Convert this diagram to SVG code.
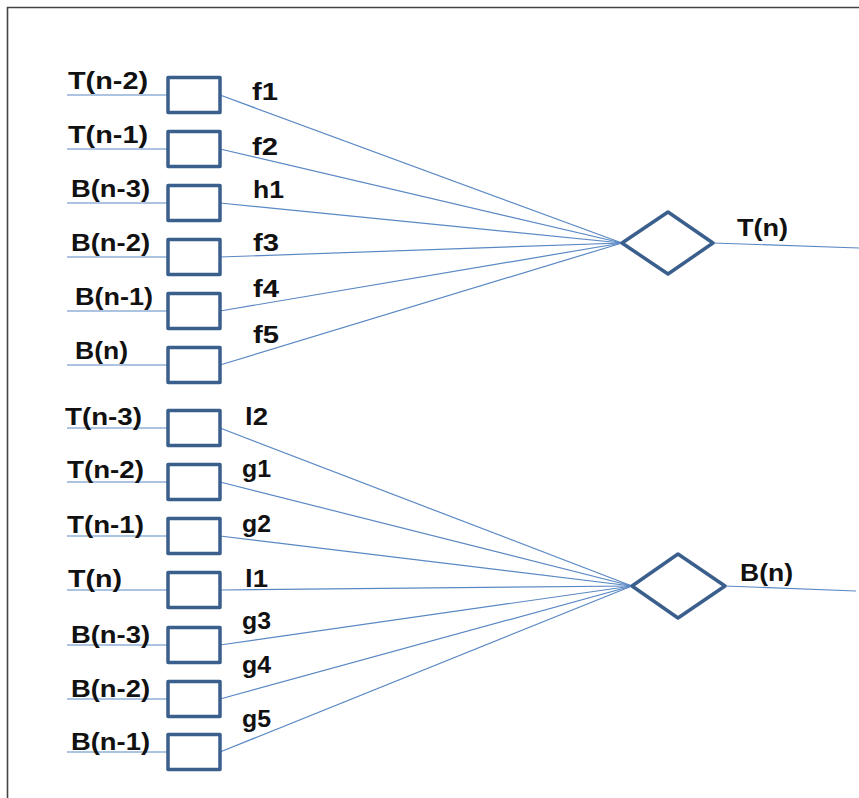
<svg xmlns="http://www.w3.org/2000/svg" width="859" height="798" viewBox="0 0 859 798">
  <style>
    .frame { fill: none; stroke: #444; stroke-width: 1.6; }
    .box { fill: #fff; stroke: #3b5f8c; stroke-width: 3.5; stroke-linejoin: round; }
    .gate { fill: #fff; stroke: #3b5f8c; stroke-width: 3.5; stroke-linejoin: round; }
    .wire { stroke: #5a88c4; stroke-width: 1.2; fill: none; }
    .lbl { font-family: "Liberation Sans", Arial, sans-serif; font-weight: bold; font-size: 23px; fill: #111; }
  </style>

  <rect x="0" y="0" width="859" height="798" fill="#fff"/>
  <path class="frame" d="M7.5,798 V7.5 H859"/>

  <!-- connectors -->
  <g id="connectors">
    <!-- inputs, upper block -->
    <line class="wire" x1="67" y1="95" x2="168" y2="95"/>
    <line class="wire" x1="67" y1="149" x2="168" y2="149"/>
    <line class="wire" x1="67" y1="203" x2="168" y2="203"/>
    <line class="wire" x1="67" y1="257" x2="168" y2="257"/>
    <line class="wire" x1="67" y1="311" x2="168" y2="311"/>
    <line class="wire" x1="67" y1="365" x2="168" y2="365"/>
    <!-- weighted links into upper gate -->
    <line class="wire" x1="220" y1="95" x2="622" y2="243"/>
    <line class="wire" x1="220" y1="149" x2="622" y2="243"/>
    <line class="wire" x1="220" y1="203" x2="622" y2="243"/>
    <line class="wire" x1="220" y1="257" x2="622" y2="243"/>
    <line class="wire" x1="220" y1="311" x2="622" y2="243"/>
    <line class="wire" x1="220" y1="365" x2="622" y2="243"/>
    <line class="wire" x1="713" y1="243" x2="859" y2="248"/>
    <!-- inputs, lower block -->
    <line class="wire" x1="67" y1="428" x2="168" y2="428"/>
    <line class="wire" x1="67" y1="482" x2="168" y2="482"/>
    <line class="wire" x1="67" y1="536" x2="168" y2="536"/>
    <line class="wire" x1="67" y1="590" x2="168" y2="590"/>
    <line class="wire" x1="67" y1="645" x2="168" y2="645"/>
    <line class="wire" x1="67" y1="699" x2="168" y2="699"/>
    <line class="wire" x1="67" y1="752" x2="168" y2="752"/>
    <!-- weighted links into lower gate -->
    <line class="wire" x1="220" y1="428" x2="632" y2="586"/>
    <line class="wire" x1="220" y1="482" x2="632" y2="586"/>
    <line class="wire" x1="220" y1="536" x2="632" y2="586"/>
    <line class="wire" x1="220" y1="590" x2="632" y2="586"/>
    <line class="wire" x1="220" y1="645" x2="632" y2="586"/>
    <line class="wire" x1="220" y1="699" x2="632" y2="586"/>
    <line class="wire" x1="220" y1="752" x2="632" y2="586"/>
    <line class="wire" x1="725" y1="586" x2="856" y2="591"/>
  </g>

  <!-- upper block -->
  <g id="in-tn2a"><rect class="box" x="168" y="77.5" width="52" height="35"/><text class="lbl" x="68" y="89" textLength="80" lengthAdjust="spacingAndGlyphs">T(n-2)</text></g>
  <g id="in-tn1a"><rect class="box" x="168" y="131.5" width="52" height="35"/><text class="lbl" x="68" y="143" textLength="80" lengthAdjust="spacingAndGlyphs">T(n-1)</text></g>
  <g id="in-bn3a"><rect class="box" x="168" y="185.5" width="52" height="35"/><text class="lbl" x="71" y="197" textLength="79" lengthAdjust="spacingAndGlyphs">B(n-3)</text></g>
  <g id="in-bn2a"><rect class="box" x="168" y="239.5" width="52" height="35"/><text class="lbl" x="71" y="251" textLength="79" lengthAdjust="spacingAndGlyphs">B(n-2)</text></g>
  <g id="in-bn1a"><rect class="box" x="168" y="293.5" width="52" height="35"/><text class="lbl" x="75" y="305" textLength="78" lengthAdjust="spacingAndGlyphs">B(n-1)</text></g>
  <g id="in-bna"><rect class="box" x="168" y="347.5" width="52" height="35"/><text class="lbl" x="75" y="359" textLength="53" lengthAdjust="spacingAndGlyphs">B(n)</text></g>

  <g id="w-f1"><text class="lbl" x="252" y="100" textLength="26" lengthAdjust="spacingAndGlyphs">f1</text></g>
  <g id="w-f2"><text class="lbl" x="252" y="155" textLength="26" lengthAdjust="spacingAndGlyphs">f2</text></g>
  <g id="w-h1"><text class="lbl" x="253" y="198" textLength="31" lengthAdjust="spacingAndGlyphs">h1</text></g>
  <g id="w-f3"><text class="lbl" x="253" y="251" textLength="26" lengthAdjust="spacingAndGlyphs">f3</text></g>
  <g id="w-f4"><text class="lbl" x="253" y="297" textLength="26" lengthAdjust="spacingAndGlyphs">f4</text></g>
  <g id="w-f5"><text class="lbl" x="253" y="343" textLength="26" lengthAdjust="spacingAndGlyphs">f5</text></g>

  <g id="gate-t">
    <polygon class="gate" points="622,243 668,212 713,243 668,274"/>
    <text class="lbl" x="737" y="236" textLength="51" lengthAdjust="spacingAndGlyphs">T(n)</text>
  </g>

  <!-- lower block -->
  <g id="in-tn3b"><rect class="box" x="168" y="410.5" width="52" height="35"/><text class="lbl" x="65" y="425" textLength="77" lengthAdjust="spacingAndGlyphs">T(n-3)</text></g>
  <g id="in-tn2b"><rect class="box" x="168" y="464.5" width="52" height="35"/><text class="lbl" x="67" y="478" textLength="77" lengthAdjust="spacingAndGlyphs">T(n-2)</text></g>
  <g id="in-tn1b"><rect class="box" x="168" y="518.5" width="52" height="35"/><text class="lbl" x="67" y="533" textLength="77" lengthAdjust="spacingAndGlyphs">T(n-1)</text></g>
  <g id="in-tnb"><rect class="box" x="168" y="572.5" width="52" height="35"/><text class="lbl" x="68" y="587" textLength="54" lengthAdjust="spacingAndGlyphs">T(n)</text></g>
  <g id="in-bn3b"><rect class="box" x="168" y="627.5" width="52" height="35"/><text class="lbl" x="71" y="643" textLength="79" lengthAdjust="spacingAndGlyphs">B(n-3)</text></g>
  <g id="in-bn2b"><rect class="box" x="168" y="681.5" width="52" height="35"/><text class="lbl" x="71" y="697" textLength="79" lengthAdjust="spacingAndGlyphs">B(n-2)</text></g>
  <g id="in-bn1b"><rect class="box" x="168" y="734.5" width="52" height="35"/><text class="lbl" x="71" y="750" textLength="79" lengthAdjust="spacingAndGlyphs">B(n-1)</text></g>

  <g id="w-l2"><text class="lbl" x="245" y="425" textLength="23" lengthAdjust="spacingAndGlyphs">l2</text></g>
  <g id="w-g1"><text class="lbl" x="242" y="477" textLength="29" lengthAdjust="spacingAndGlyphs">g1</text></g>
  <g id="w-g2"><text class="lbl" x="242" y="532" textLength="29" lengthAdjust="spacingAndGlyphs">g2</text></g>
  <g id="w-l1"><text class="lbl" x="245" y="587" textLength="23" lengthAdjust="spacingAndGlyphs">l1</text></g>
  <g id="w-g3"><text class="lbl" x="242" y="629" textLength="29" lengthAdjust="spacingAndGlyphs">g3</text></g>
  <g id="w-g4"><text class="lbl" x="242" y="673" textLength="29" lengthAdjust="spacingAndGlyphs">g4</text></g>
  <g id="w-g5"><text class="lbl" x="242" y="727" textLength="29" lengthAdjust="spacingAndGlyphs">g5</text></g>

  <g id="gate-b">
    <polygon class="gate" points="632,586 678,554 725,586 678,618"/>
    <text class="lbl" x="740" y="581" textLength="53" lengthAdjust="spacingAndGlyphs">B(n)</text>
  </g>
</svg>
